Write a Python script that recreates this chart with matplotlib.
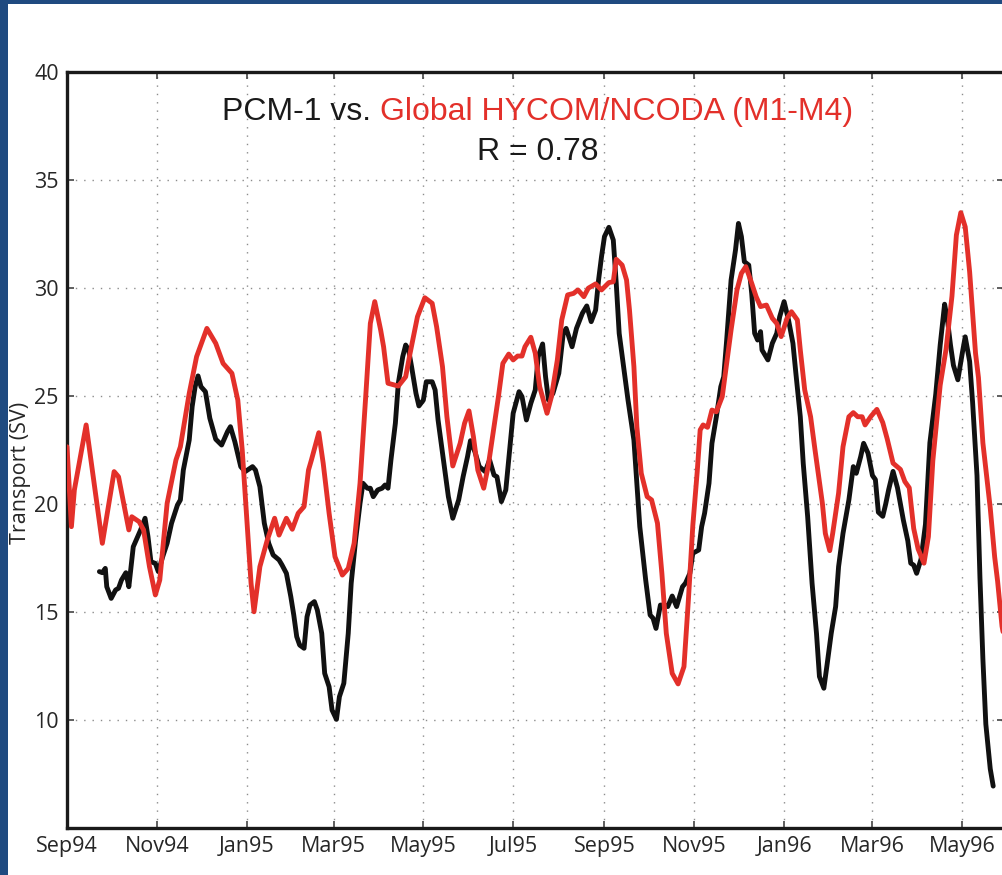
import numpy as np
import matplotlib
matplotlib.use("Agg")
import matplotlib.pyplot as plt
import matplotlib.dates as mdates
from matplotlib.patches import Rectangle

plt.rcParams['font.family'] = ['Open Sans', 'DejaVu Sans']

# day offsets from 1 Sep 1994 and transport (Sv)
start = np.datetime64('1994-09-01')

pcm_days = [22, 24, 26, 27, 30, 33, 35, 37, 40, 42, 45, 48, 50, 53, 55, 57, 60, 62, 65, 68,
            71, 75, 77, 79, 83, 85, 87, 89, 91, 94, 97, 101, 105, 109, 111, 114, 118, 121, 126, 128,
            131, 134, 137, 140, 144, 146, 149, 152, 154, 156, 158, 161, 163, 165, 168, 170, 173, 175, 178, 180,
            183, 185, 188, 191, 193, 196, 199, 201, 204, 206, 208, 211, 214, 216, 218, 220, 223, 225, 228, 230,
            232, 234, 237, 239, 242, 244, 248, 250, 252, 256, 259, 262, 266, 269, 272, 274, 277, 280, 284, 287,
            290, 292, 295, 298, 301, 303, 307, 309, 312, 315, 318, 320, 323, 325, 327, 330, 334, 337, 339, 343,
            346, 350, 353, 356, 359, 361, 363, 365, 368, 371, 373, 375, 378, 381, 385, 387, 389, 393, 396, 398,
            400, 403, 406, 408, 411, 414, 418, 420, 423, 425, 429, 431, 433, 436, 438, 441, 444, 446, 448, 451,
            454, 456, 458, 460, 463, 465, 467, 469, 471, 472, 476, 479, 482, 484, 487, 490, 493, 495, 498, 500,
            503, 506, 509, 511, 514, 516, 519, 522, 524, 527, 531, 534, 536, 539, 541, 544, 547, 549, 551, 554,
            556, 558, 561, 564, 566, 568, 571, 573, 575, 577, 580, 583, 586, 590, 593, 596, 598, 600, 602, 605,
            608, 610, 613, 615, 618, 620, 622, 624, 627, 629]
pcm_sv = [16.87, 16.82, 17.02, 16.17, 15.63, 16.02, 16.10, 16.48, 16.82, 16.17, 18.02, 18.49, 18.80, 19.34, 18.49, 17.33, 17.25, 16.87, 17.56, 18.18,
          19.11, 19.95, 20.19, 21.57, 22.96, 24.51, 25.43, 25.93, 25.43, 25.20, 23.97, 23.00, 22.73, 23.35, 23.58, 22.88, 21.73, 21.50, 21.73, 21.57,
          20.80, 19.11, 18.18, 17.64, 17.41, 17.18, 16.79, 15.71, 14.86, 13.86, 13.47, 13.32, 14.78, 15.32, 15.48, 15.09, 14.01, 12.16, 11.54, 10.46,
          10.03, 11.08, 11.70, 14.01, 16.33, 18.33, 20.03, 20.96, 20.73, 20.73, 20.34, 20.65, 20.73, 20.88, 20.73, 22.04, 23.74, 25.59, 26.82, 27.36,
          27.13, 26.36, 25.12, 24.54, 24.81, 25.66, 25.66, 25.28, 23.89, 21.88, 20.34, 19.34, 20.19, 21.26, 22.19, 22.93, 22.42, 21.73, 21.50, 22.04,
          21.34, 21.26, 20.11, 20.65, 22.81, 24.20, 25.20, 24.97, 23.89, 24.66, 25.28, 26.82, 27.41, 25.89, 24.81, 25.12, 26.05, 27.90, 28.13, 27.28,
          28.13, 28.83, 29.17, 28.44, 28.98, 30.37, 31.45, 32.38, 32.81, 32.22, 30.22, 27.90, 26.36, 24.81, 22.96, 20.96, 18.95, 16.48, 14.86, 14.71,
          14.24, 15.32, 15.32, 15.25, 15.74, 15.25, 16.17, 16.33, 16.79, 17.72, 17.87, 18.95, 19.57, 20.96, 22.81, 24.04, 25.43, 25.89, 27.59, 30.37,
          31.76, 32.99, 32.38, 31.22, 31.06, 29.75, 27.90, 27.59, 27.98, 27.13, 26.67, 27.44, 27.90, 28.67, 29.37, 28.52, 27.44, 26.05, 24.04, 21.88,
          19.41, 16.33, 14.01, 12.01, 11.47, 12.47, 14.01, 15.25, 17.10, 18.64, 20.19, 21.73, 21.42, 22.19, 22.81, 22.35, 21.32, 21.13, 19.62, 19.43,
          20.00, 20.66, 21.51, 20.75, 20.00, 19.25, 18.30, 17.26, 17.17, 16.79, 17.45, 19.06, 22.83, 25.09, 27.36, 29.25, 28.49, 27.36, 26.42, 25.75,
          26.98, 27.74, 26.60, 24.72, 21.32, 16.60, 12.83, 9.81, 7.74, 6.94]

hycom_days = [0, 3, 5, 13, 24, 32, 35, 42, 44, 49, 52, 56, 60, 63, 68, 74, 77, 83, 88, 95,
              101, 106, 112, 116, 119, 122, 125, 127, 131, 136, 141, 144, 149, 153, 157, 161, 164, 166, 171, 174,
              178, 182, 187, 191, 195, 199, 203, 206, 209, 213, 215, 218, 225, 230, 233, 238, 243, 248, 251, 255,
              258, 262, 267, 270, 273, 276, 279, 283, 286, 290, 293, 296, 300, 303, 306, 309, 311, 315, 318, 321,
              326, 329, 333, 336, 340, 344, 347, 351, 354, 359, 363, 368, 371, 373, 377, 380, 382, 385, 387, 390,
              394, 397, 401, 404, 407, 411, 415, 419, 422, 425, 428, 430, 432, 435, 438, 441, 445, 448, 451, 455,
              458, 461, 465, 468, 471, 475, 479, 482, 485, 489, 492, 496, 498, 501, 505, 508, 513, 515, 518, 520,
              524, 527, 531, 534, 537, 540, 542, 546, 550, 554, 557, 561, 566, 569, 572, 575, 578, 582, 585, 588,
              593, 597, 601, 604, 607, 610, 613, 617, 619, 622, 627, 630, 632, 635, 638]
hycom_sv = [22.65, 18.95, 20.65, 23.66, 18.18, 21.50, 21.26, 18.80, 19.41, 19.18, 18.80, 17.10, 15.79, 16.48, 20.03, 22.04, 22.65, 25.12, 26.82, 28.13,
            27.44, 26.51, 26.05, 24.81, 22.50, 19.41, 16.33, 15.01, 17.10, 18.33, 19.34, 18.56, 19.34, 18.83, 19.57, 19.88, 21.57, 22.04, 23.30, 21.88,
            19.57, 17.56, 16.71, 17.02, 18.18, 20.96, 25.12, 28.36, 29.37, 28.06, 27.28, 25.59, 25.46, 25.89, 26.98, 28.67, 29.55, 29.29, 28.21, 26.36,
            24.04, 21.76, 22.81, 23.74, 24.31, 23.12, 21.57, 20.73, 21.73, 23.58, 24.97, 26.51, 26.94, 26.67, 26.85, 26.85, 27.28, 27.72, 26.98, 25.43,
            24.20, 24.97, 26.67, 28.52, 29.68, 29.75, 29.91, 29.60, 29.99, 30.19, 29.91, 30.25, 30.29, 31.33, 31.06, 30.37, 28.98, 26.36, 23.58, 21.42,
            20.34, 20.19, 19.11, 16.79, 14.01, 12.16, 11.67, 12.47, 15.56, 19.00, 21.50, 23.43, 23.66, 23.55, 24.35, 24.27, 24.97, 26.51, 28.06, 29.91,
            30.68, 30.99, 30.22, 29.60, 29.14, 29.21, 28.60, 28.36, 27.75, 28.60, 28.90, 28.52, 27.13, 25.28, 24.04, 22.50, 20.03, 18.64, 17.84, 18.64,
            20.50, 22.65, 24.04, 24.23, 24.04, 24.04, 23.66, 24.06, 24.38, 23.77, 23.02, 21.89, 21.60, 21.04, 20.75, 18.87, 17.92, 17.26, 18.49, 22.00,
            25.50, 27.17, 29.62, 32.45, 33.49, 32.83, 30.75, 26.98, 25.85, 22.83, 19.81, 17.55, 16.42, 14.34, 13.2]

y_ticks = [10, 15, 20, 25, 30, 35, 40]

pcm_dates = start + np.array(pcm_days).astype('timedelta64[D]')
hycom_dates = start + np.array(hycom_days).astype('timedelta64[D]')

RED = '#e3302a'
W, H = 1002, 875

fig = plt.figure(figsize=(W / 100, H / 100), dpi=100)
fig.patch.set_facecolor('#1f4a80')
fig.add_artist(Rectangle((8 / W, 0), 1 - 8 / W, (H - 4) / H, transform=fig.transFigure,
                         facecolor='white', edgecolor='none', zorder=-10))

ax = fig.add_axes([67 / W, (H - 828) / H, (1003.5 - 67) / W, (828 - 72) / H])
ax.plot(pcm_dates, pcm_sv, color='#111111', lw=3.5, solid_joinstyle='round',
        solid_capstyle='round', zorder=3)
ax.plot(hycom_dates, hycom_sv, color=RED, lw=3.5, solid_joinstyle='round',
        solid_capstyle='round', zorder=4)

ax.set_xlim(start, start + np.timedelta64(636, 'D'))
ax.set_ylim(5, 40)
ax.set_yticks(y_ticks)
ax.xaxis.set_major_locator(mdates.MonthLocator(bymonth=(1, 3, 5, 7, 9, 11)))
ax.xaxis.set_major_formatter(mdates.DateFormatter('%b%y'))

ax.grid(True, color='#8c8c8c', linestyle=(0, (1, 5)), linewidth=1.0)
ax.set_axisbelow(True)
for s in ax.spines.values():
    s.set_linewidth(2.4)
    s.set_color('#1a1a1a')
ax.tick_params(direction='in', length=5, width=1.2, color='#444444', top=True, right=True,
               labelsize=15.5, labelcolor='#262626')
ax.tick_params(axis='x', pad=6)
ax.tick_params(axis='y', pad=6)

fig.text(21 / W, (H - 473) / H, 'Transport (SV)', rotation=90, fontsize=15.5,
         color='#262626', ha='center', va='center')

# two-colour title
tfont = dict(family=['Liberation Sans', 'DejaVu Sans'], fontsize=23)
t1 = fig.text(0, (H - 120) / H, 'PCM-1 vs.', color='#1a1a1a', va='baseline', ha='left', **tfont)
t2 = fig.text(0, (H - 120) / H, 'Global HYCOM/NCODA (M1-M4)', color=RED, va='baseline', ha='left', **tfont)
fig.canvas.draw()
r = fig.canvas.get_renderer()
w1 = t1.get_window_extent(r).width
w2 = t2.get_window_extent(r).width
gap = 9
x0 = 537.5 - (w1 + gap + w2) / 2
t1.set_x(x0 / W)
t2.set_x((x0 + w1 + gap) / W)
fig.text(537.5 / W, (H - 160) / H, 'R = 0.78', color='#1a1a1a', va='baseline', ha='center', **tfont)

fig.savefig('out.png', dpi=100)
